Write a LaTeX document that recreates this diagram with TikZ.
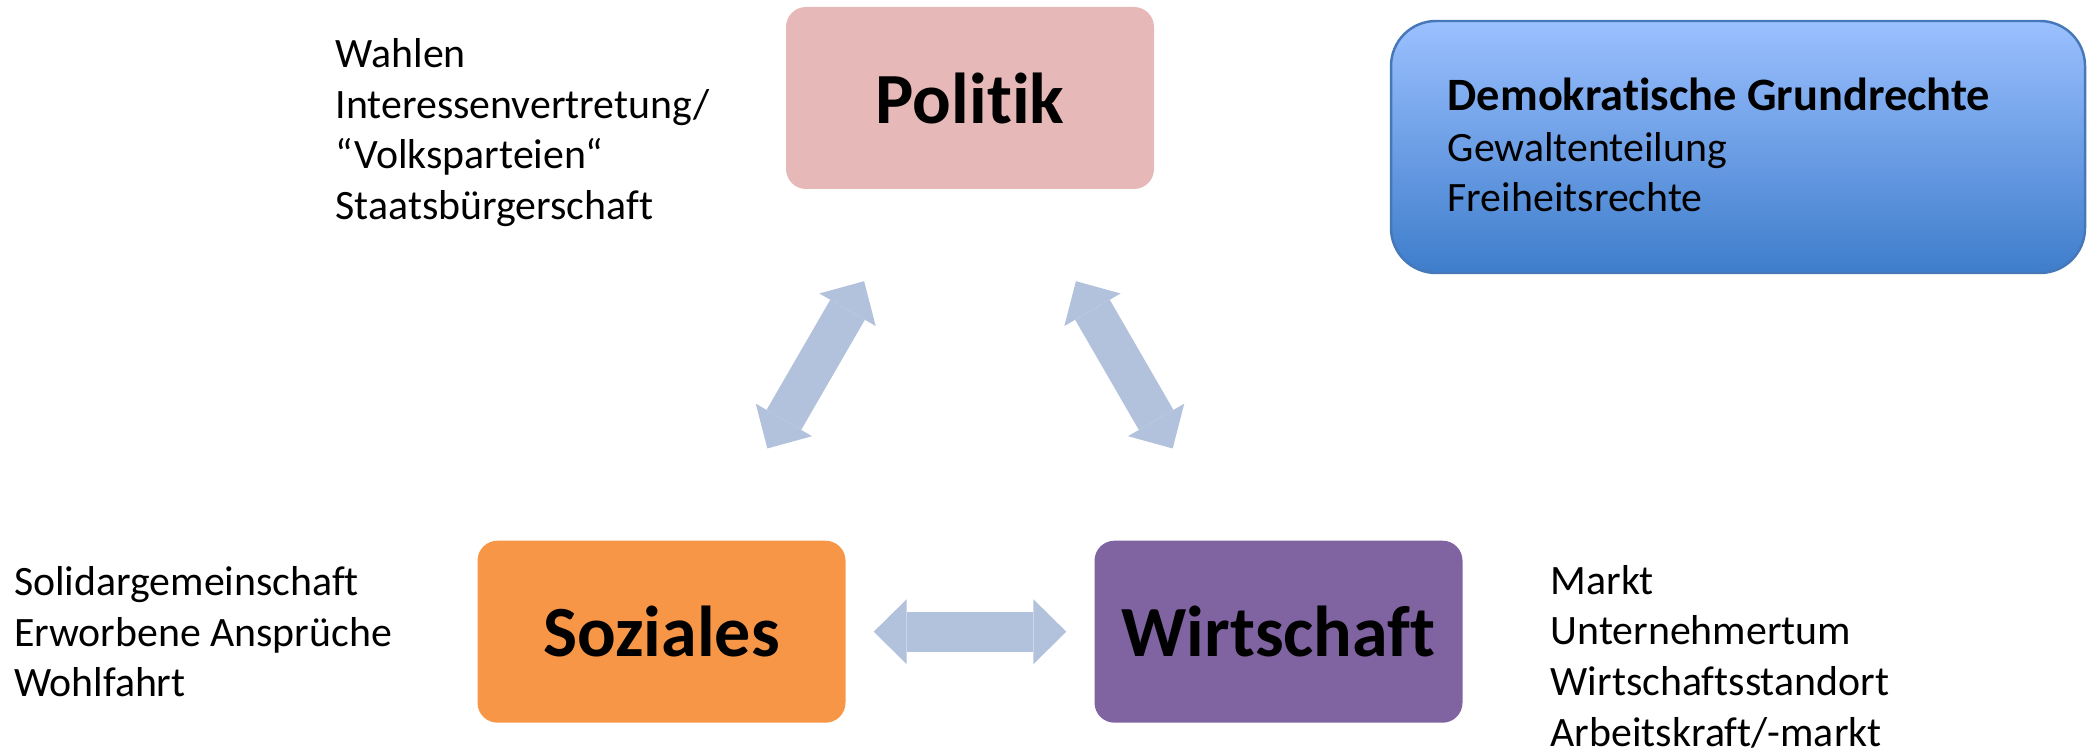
\documentclass[tikz,border=0pt]{standalone}
\usepackage{fontspec}
\setmainfont{Carlito}[Ligatures=NoCommon]
\usetikzlibrary{arrows.meta}
\definecolor{polrose}{RGB}{230,184,183}
\definecolor{sozorange}{RGB}{247,150,70}
\definecolor{wirpurple}{RGB}{128,100,162}
\definecolor{arrblue}{RGB}{179,194,220}
\definecolor{grundtop}{RGB}{155,192,255}
\definecolor{grundbot}{RGB}{62,125,203}
\definecolor{grundline}{RGB}{70,120,185}

\begin{document}
\begin{tikzpicture}[
  font=\fontsize{11.9}{14.4}\selectfont,
  blk/.style={fill=#1, rounded corners=2mm, minimum width=3.68cm, minimum height=1.82cm,
    font=\fontsize{20.5}{24}\selectfont\bfseries, inner sep=0pt},
  txt/.style={anchor=base west, align=left, inner sep=0pt},
  grund/.style={draw=grundline, line width=0.7pt, rounded corners=4.5mm,
    top color=grundtop, bottom color=grundbot, minimum width=6.94cm, minimum height=2.52cm},
  dbl/.style={line width=4mm, draw=arrblue,
    {Triangle[length=3.3mm, width=6.5mm, line width=0pt]}-{Triangle[length=3.3mm, width=6.5mm, line width=0pt]},
    shorten <=#1, shorten >=#1},
]
\useasboundingbox (0,0) rectangle (20.91,7.51);
% three fields
\node[blk=polrose] (pol) at (9.70,6.53) {Politik};
\node[blk=sozorange] (soz) at (6.615,1.193) {Soziales};
\node[blk=wirpurple] (wir) at (12.785,1.193) {Wirtschaft};
% lists (anchored at the last baseline)
\node[txt] (poltxt) at (3.35,5.315) {Wahlen\\Interessenvertretung/\\“Volksparteien“\\Staatsbürgerschaft};
\node[txt] (soztxt) at (0.133,0.543) {Solidargemeinschaft\\Erworbene Ansprüche\\Wohlfahrt};
\node[txt] (wirtxt) at (15.50,0.05) {Markt\\Unternehmertum\\Wirtschaftsstandort\\Arbeitskraft/-markt};
% basic rights
\node[grund] (demo) at (17.38,6.04) {};
\node[txt] (demotxt) at (14.47,5.39) {{\fontsize{13.2}{14.4}\selectfont\bfseries Demokratische Grundrechte}\\Gewaltenteilung\\Freiheitsrechte};
% arrows
\draw[dbl=10.57mm] (pol) -- (soz);
\draw[dbl=10.57mm] (pol) -- (wir);
\draw[dbl=2.75mm] (soz) -- (wir);
\end{tikzpicture}
\end{document}
